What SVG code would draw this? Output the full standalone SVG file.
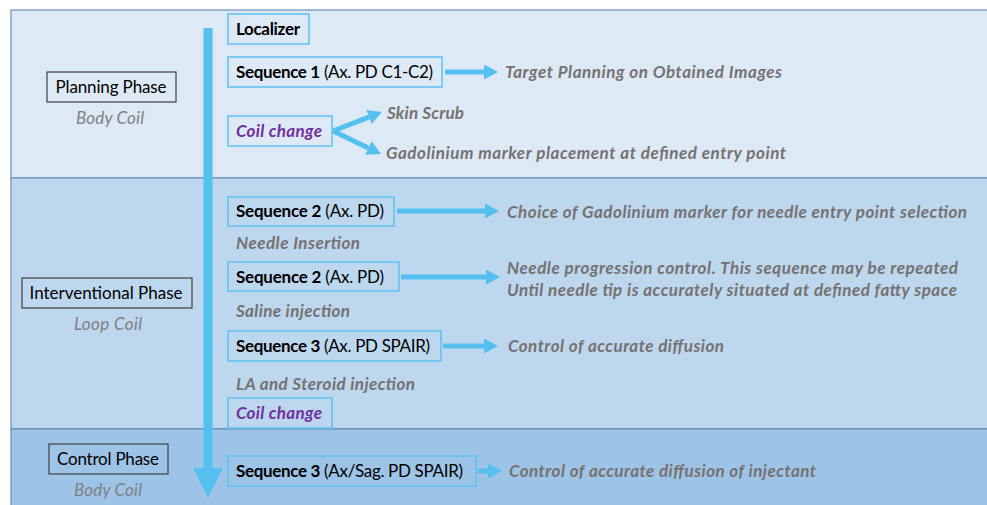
<svg xmlns="http://www.w3.org/2000/svg" width="987" height="505" viewBox="0 0 987 505">
<defs>
<style>
text{font-family:Lato,"Liberation Sans",sans-serif;font-size:17px}
.band{stroke:#6a8ebc;stroke-width:1.2}
.box{fill:none;stroke:#5bc2f2;stroke-width:1.5}
.pbox{fill:none;stroke:#404040;stroke-width:1.2}
.b{font-weight:bold;fill:#000}
.n{font-weight:normal;fill:#000}
.note{font-weight:bold;font-style:italic;fill:#767171}
.coil{font-style:italic;fill:#808080}
.cc{font-weight:bold;font-style:italic;fill:#7030a0}
.ph{fill:#000}
.arr{stroke:#55bff0;stroke-width:5;fill:none}
</style>
<marker id="ah" markerUnits="userSpaceOnUse" markerWidth="15" markerHeight="16" refX="0" refY="7.5" orient="auto">
<path d="M0,0 L14,7.5 L0,15 z" fill="#55bff0"/>
</marker>
</defs>
<g id="bands">
<rect class="band" x="11" y="10" width="980" height="168" fill="#dde9f5"/>
<rect class="band" x="11" y="178" width="980" height="251" fill="#bdd7ee"/>
<rect class="band" x="11" y="429" width="980" height="80" fill="#9dc3e6"/>
</g>
<g id="connectors">
<path d="M203.5,28 H212.5 V468 H223 L208,498 L193,468 H203.5 Z" fill="#55bff0"/>
<line class="arr" x1="445" y1="72" x2="484" y2="72" marker-end="url(#ah)"/>
<line class="arr" x1="333" y1="131" x2="368.9" y2="117.1" marker-end="url(#ah)"/>
<line class="arr" x1="333" y1="131" x2="368.4" y2="147.9" marker-end="url(#ah)"/>
<line class="arr" x1="397" y1="211" x2="485" y2="211" marker-end="url(#ah)"/>
<line class="arr" x1="401" y1="277" x2="486" y2="277" marker-end="url(#ah)"/>
<line class="arr" x1="443" y1="346" x2="484" y2="346" marker-end="url(#ah)"/>
<line class="arr" x1="478" y1="471" x2="488" y2="471" marker-end="url(#ah)"/>
</g>
<g id="planning-phase">
<rect class="pbox" x="47" y="72" width="129" height="30"/>
<text class="ph" x="111" y="93" text-anchor="middle" textLength="111">Planning Phase</text>
<text class="coil" x="110" y="124" text-anchor="middle" textLength="68">Body Coil</text>
</g>
<g id="interventional-phase">
<rect class="pbox" x="22" y="278" width="170" height="30"/>
<text class="ph" x="106" y="299" text-anchor="middle" textLength="153">Interventional Phase</text>
<text class="coil" x="108" y="330" text-anchor="middle" textLength="68">Loop Coil</text>
</g>
<g id="control-phase">
<rect class="pbox" x="49" y="444" width="119" height="30"/>
<text class="ph" x="108" y="465" text-anchor="middle" textLength="102">Control Phase</text>
<text class="coil" x="108" y="496" text-anchor="middle" textLength="68">Body Coil</text>
</g>
<g id="localizer">
<rect class="box" x="228" y="14" width="81" height="30"/>
<text class="b" x="236" y="35" textLength="64">Localizer</text>
</g>
<g id="sequence1">
<rect class="box" x="228" y="57" width="214" height="30"/>
<text x="236" y="78" textLength="197"><tspan class="b">Sequence 1</tspan><tspan class="n"> (Ax. PD C1-C2)</tspan></text>
</g>
<g id="target-planning">
<text class="note" x="505" y="78" textLength="277">Target Planning on Obtained Images</text>
</g>
<g id="coil-change-1">
<rect class="box" x="228" y="116" width="104" height="30"/>
<text class="cc" x="236" y="137" textLength="86">Coil change</text>
</g>
<g id="skin-scrub">
<text class="note" x="387" y="119" textLength="77">Skin Scrub</text>
</g>
<g id="gadolinium-placement">
<text class="note" x="386" y="159" textLength="400">Gadolinium marker placement at defined entry point</text>
</g>
<g id="sequence2a">
<rect class="box" x="228" y="197" width="166" height="29"/>
<text x="236" y="217" textLength="148"><tspan class="b">Sequence 2</tspan><tspan class="n"> (Ax. PD)</tspan></text>
</g>
<g id="choice-marker">
<text class="note" x="507" y="218" textLength="460">Choice of Gadolinium marker for needle entry point selection</text>
</g>
<g id="needle-insertion">
<text class="note" x="236" y="249" textLength="124">Needle Insertion</text>
</g>
<g id="sequence2b">
<rect class="box" x="228" y="262" width="171" height="29"/>
<text x="236" y="283" textLength="148"><tspan class="b">Sequence 2</tspan><tspan class="n"> (Ax. PD)</tspan></text>
</g>
<g id="needle-progression">
<text class="note" x="507" y="274" textLength="451">Needle progression control. This sequence may be repeated</text>
<text class="note" x="507" y="296" textLength="450">Until needle tip is accurately situated at defined fatty space</text>
</g>
<g id="saline-injection">
<text class="note" x="236" y="317" textLength="114">Saline injection</text>
</g>
<g id="sequence3a">
<rect class="box" x="228" y="331" width="213" height="30"/>
<text x="236" y="352" textLength="194"><tspan class="b">Sequence 3</tspan><tspan class="n"> (Ax. PD SPAIR)</tspan></text>
</g>
<g id="control-diffusion">
<text class="note" x="508" y="352" textLength="216">Control of accurate diffusion</text>
</g>
<g id="la-steroid">
<text class="note" x="236" y="390" textLength="179">LA and Steroid injection</text>
</g>
<g id="coil-change-2">
<rect class="box" x="228" y="398" width="104" height="30"/>
<text class="cc" x="236" y="419" textLength="86">Coil change</text>
</g>
<g id="sequence3b">
<rect class="box" x="228" y="456" width="248" height="30"/>
<text x="236" y="477" textLength="227"><tspan class="b">Sequence 3</tspan><tspan class="n"> (Ax/Sag. PD SPAIR)</tspan></text>
</g>
<g id="control-injectant">
<text class="note" x="509" y="477" textLength="307">Control of accurate diffusion of injectant</text>
</g>
</svg>
